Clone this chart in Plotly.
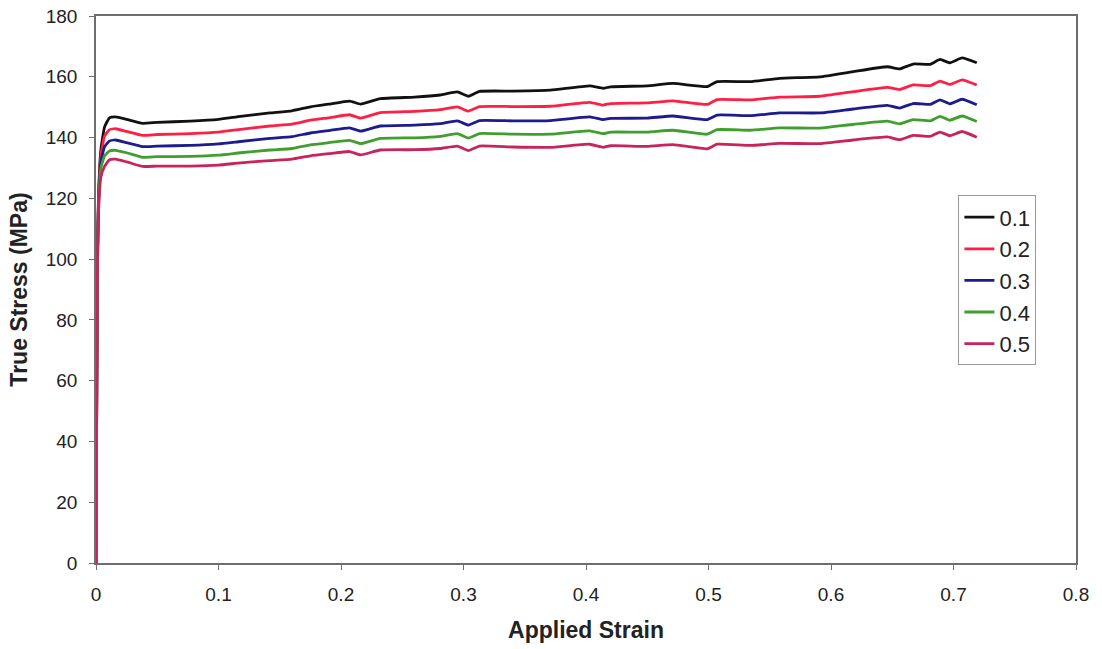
import plotly.graph_objects as go

# Applied strain sampling points (shared by all curves)
strain = [0, 0.001, 0.002, 0.004, 0.007, 0.011, 0.016, 0.025, 0.038, 0.05,
          0.077, 0.1, 0.118, 0.142, 0.16, 0.175, 0.19, 0.207, 0.216, 0.232,
          0.26, 0.281, 0.295, 0.304, 0.313, 0.34, 0.371, 0.403, 0.414, 0.42,
          0.45, 0.471, 0.499, 0.507, 0.534, 0.558, 0.591, 0.618, 0.646, 0.656,
          0.667, 0.681, 0.689, 0.697, 0.707, 0.719]

# True stress (MPa) for each series
stress_01 = [0, 95, 120, 136, 143.5, 146.5, 146.8, 146.0, 144.7, 145.0,
             145.4, 146.0, 147.0, 148.1, 148.8, 150.1, 151.0, 152.0, 151.0, 152.8,
             153.3, 154.0, 155.0, 153.6, 155.2, 155.3, 155.6, 157.0, 156.2, 156.7,
             157.0, 157.8, 156.8, 158.4, 158.4, 159.5, 160.0, 161.7, 163.3, 162.6,
             164.2, 164.1, 165.7, 164.6, 166.2, 164.6]
stress_02 = [0, 94, 119, 134, 140.5, 142.6, 142.9, 142.0, 140.7, 141.0,
             141.3, 141.8, 142.7, 143.8, 144.4, 145.7, 146.5, 147.5, 146.4, 148.2,
             148.6, 149.2, 150.1, 148.7, 150.2, 150.2, 150.3, 151.6, 150.7, 151.2,
             151.4, 152.1, 150.9, 152.5, 152.4, 153.3, 153.6, 155.1, 156.5, 155.8,
             157.3, 157.1, 158.6, 157.5, 159.0, 157.3]
stress_03 = [0, 93, 118, 132, 137.0, 138.9, 139.2, 138.3, 137.0, 137.2,
             137.4, 137.9, 138.7, 139.7, 140.3, 141.5, 142.3, 143.2, 142.1, 143.8,
             144.1, 144.6, 145.5, 144.1, 145.6, 145.5, 145.6, 146.8, 145.9, 146.3,
             146.4, 147.1, 145.9, 147.4, 147.2, 148.1, 148.1, 149.4, 150.6, 149.7,
             151.2, 150.9, 152.4, 151.1, 152.6, 150.8]
stress_04 = [0, 92, 117, 130, 134.0, 135.6, 135.8, 135.0, 133.5, 133.7,
             133.8, 134.2, 135.0, 135.9, 136.4, 137.6, 138.3, 139.1, 138.0, 139.7,
             139.9, 140.4, 141.3, 139.8, 141.3, 141.1, 141.1, 142.2, 141.3, 141.8,
             141.8, 142.4, 141.1, 142.6, 142.4, 143.2, 143.1, 144.3, 145.4, 144.5,
             145.9, 145.5, 147.0, 145.7, 147.1, 145.3]
stress_05 = [0, 91, 115, 127, 130.5, 132.7, 132.9, 132.0, 130.5, 130.6,
             130.6, 130.9, 131.7, 132.4, 132.9, 134.0, 134.7, 135.4, 134.3, 135.9,
             136.0, 136.4, 137.2, 135.7, 137.2, 136.9, 136.8, 137.8, 136.8, 137.3,
             137.1, 137.7, 136.3, 137.8, 137.4, 138.1, 138.0, 139.2, 140.2, 139.3,
             140.7, 140.4, 141.8, 140.6, 142.0, 140.1]

series_names = ["0.1", "0.2", "0.3", "0.4", "0.5"]
series_values = [stress_01, stress_02, stress_03, stress_04, stress_05]
series_colors = ["#111111", "#ff1f45", "#1c1c8e", "#3f9e2e", "#c8245a"]

fig = go.Figure()
for name, vals, col in zip(series_names, series_values, series_colors):
    fig.add_trace(go.Scatter(
        x=strain, y=vals, name=name, mode="lines",
        line=dict(color=col, width=2.8, shape="spline", smoothing=0.4),
    ))

font_family = "Liberation Sans, Arial, sans-serif"

fig.update_layout(
    width=1102, height=649,
    margin=dict(l=96, r=26, t=16, b=86),
    paper_bgcolor="white",
    plot_bgcolor="white",
    font=dict(family=font_family, color="#222222", size=19),
    showlegend=True,
    legend=dict(
        x=0.88, y=0.672, xanchor="left", yanchor="top",
        bgcolor="white", bordercolor="#9a9a9a", borderwidth=1,
        font=dict(size=22, family=font_family, color="#222222"),
        itemwidth=30,
    ),
    xaxis=dict(
        range=[0, 0.8], dtick=0.1, tick0=0,
        tickvals=[0, 0.1, 0.2, 0.3, 0.4, 0.5, 0.6, 0.7, 0.8],
        ticktext=["0", "0.1", "0.2", "0.3", "0.4", "0.5", "0.6", "0.7", "0.8"],
        showgrid=False, zeroline=False, automargin=False,
        showline=True, linecolor="#6e6e6e", linewidth=1.5, mirror=True,
        ticks="outside", ticklen=5, tickcolor="#6e6e6e",
        ticklabelstandoff=8,
        tickfont=dict(size=19),
        title=dict(text="<b>Applied Strain</b>", font=dict(size=23), standoff=18),
    ),
    yaxis=dict(
        range=[0, 180], dtick=20, tick0=0,
        showgrid=False, zeroline=False, automargin=False,
        showline=True, linecolor="#6e6e6e", linewidth=1.5, mirror=True,
        ticks="outside", ticklen=5, tickcolor="#6e6e6e",
        ticklabelstandoff=8,
        tickfont=dict(size=19),
        title=dict(text="<b>True Stress (MPa)</b>", font=dict(size=23), standoff=12),
    ),
)

fig.write_html("out.html")
